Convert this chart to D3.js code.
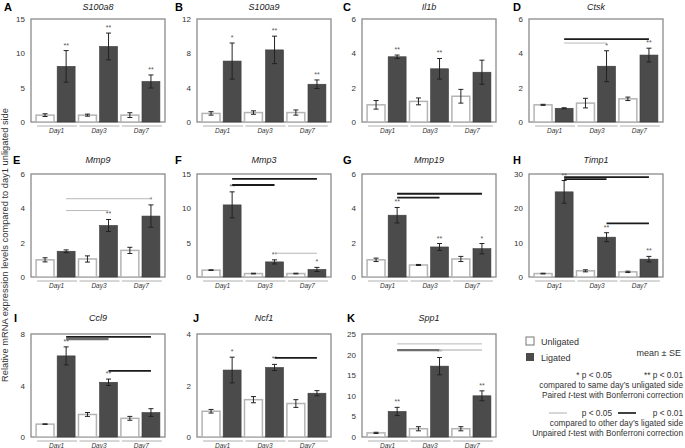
<!DOCTYPE html>
<html><head><meta charset="utf-8">
<script src="https://cdn.jsdelivr.net/npm/d3@7"></script>
<style>body{margin:0;background:#fff}svg{display:block;font-family:"Liberation Sans",Arial,sans-serif}</style>
</head><body><svg id="c" width="685" height="448"></svg>
<script>
const genes = ["S100a8","S100a9","Il1b","Ctsk","Mmp9","Mmp3","Mmp19","Timp1","Ccl9","Ncf1","Spp1"];
const letters = ["A","B","C","D","E","F","G","H","I","J","K"];
const days = ["Day1","Day3","Day7"];
const series = ["Unligated","Ligated"];
const unligatedMean = [[1.0,1.0,1.0],[1.0,1.1,1.1],[1.0,1.2,1.5],[1.0,1.1,1.35],[1.0,1.05,1.55],[1.0,0.5,0.5],[1.0,0.7,1.05],[1.0,1.8,1.5],[1.0,1.75,1.45],[1.0,1.45,1.3],[1.0,2.0,2.0]];
const unligatedSE   = [[0.2,0.15,0.35],[0.2,0.2,0.3],[0.25,0.2,0.4],[0.03,0.28,0.1],[0.12,0.18,0.18],[0.05,0.05,0.05],[0.1,0.03,0.15],[0.1,0.3,0.2],[0.02,0.15,0.15],[0.07,0.12,0.15],[0.15,0.5,0.5]];
const ligatedMean   = [[8.1,11.0,5.9],[7.1,8.4,4.4],[3.8,3.1,2.9],[0.8,3.25,3.9],[1.5,3.0,3.55],[10.5,2.2,1.1],[3.6,1.75,1.65],[24.8,11.6,5.2],[6.3,4.25,1.9],[2.6,2.7,1.7],[6.2,17.2,10.0]];
const ligatedSE     = [[2.3,1.95,0.95],[2.1,1.6,0.5],[0.1,0.6,0.7],[0.03,0.9,0.4],[0.08,0.35,0.65],[1.9,0.3,0.3],[0.45,0.2,0.3],[3.3,1.3,0.8],[0.7,0.25,0.3],[0.5,0.12,0.1],[1.0,2.1,1.2]];
const stars = [["**","**","**"],["*","**","**"],["**","**",""],["","*","**"],["","**","*"],["**","**","*"],["**","**","*"],["**","**","**"],["**","**",""],["*","**",""],["**","**","**"]];
const yMax = [15,12,6,6,6,15,6,30,8,4,25];
const yTicks = [[0,5,10,15],[0,4,8,12],[0,2,4,6],[0,2,4,6],[0,2,4,6],[0,5,10,15],[0,2,4,6],[0,10,20,30],[0,4,8],[0,2,4],[0,5,10,15,20,25]];
// significance lines between ligated groups: [fromDay, toDay, level, height in data units]
const sigLines = [[],[],[],
  [[0,2,"0.01",4.83],[0,1,"0.05",4.6]],
  [[0,2,"0.05",4.56],[0,1,"0.05",3.87]],
  [[0,2,"0.01",14.28],[0,1,"0.01",13.4],[1,2,"0.05",3.46]],
  [[0,2,"0.01",4.85],[0,1,"0.01",4.62]],
  [[0,2,"0.01",29.1],[0,1,"0.01",28.5],[1,2,"0.01",15.6]],
  [[0,2,"0.01",7.77],[0,1,"0.01m",7.6],[1,2,"0.01",5.13]],
  [[1,2,"0.01",3.07]],
  [[0,2,"0.05",22.6],[0,1,"0.01m",21.1],[1,2,"0.05t",21.1]]];

const colLeft = [31,197,362,529], panelW = 134, rowTop = [19,174,334], panelH = 103;
const letterX = [4,175,343,513,13,175,343,513,14,193,347];
const titleOffset = [9,11,13];

const svg = d3.select("#c");
const sigStyle = {"0.05":{c:"#b8b8b8",w:1},"0.05t":{c:"#c4c4c4",w:1.6},"0.01":{c:"#1a1a1a",w:1.8},"0.01m":{c:"#6e6e6e",w:2.2}};

genes.forEach((g,i)=>{
  const col = i%4, row = Math.floor(i/4);
  const L = colLeft[col], T = rowTop[row], R = L+panelW, B = T+panelH;
  const gp = svg.append("g");
  const y = d3.scaleLinear().domain([0,yMax[i]]).range([B,T]);
  const x0 = d3.scaleBand().domain(days).range([L,R]).paddingInner(0.08).paddingOuter(0.12);
  const x1 = d3.scaleBand().domain(series).range([0,x0.bandwidth()]).paddingInner(0.15);
  gp.append("text").attr("x",letterX[i]).attr("y",T-titleOffset[row]+1).attr("font-size",11).attr("font-weight","bold").text(letters[i]);
  gp.append("text").attr("x",(L+R)/2).attr("y",T-titleOffset[row]).attr("font-size",9).attr("font-style","italic").attr("text-anchor","middle").attr("fill","#222").text(g);
  const ax = gp.append("g").attr("transform",`translate(${L-6},0)`).call(d3.axisLeft(y).tickValues(yTicks[i]).tickFormat(d3.format("d")).tickSize(0).tickPadding(0));
  ax.select(".domain").remove();
  ax.selectAll("text").attr("font-size",8).attr("fill","#333").attr("font-family","Liberation Sans, Arial, sans-serif");
  gp.append("rect").attr("x",L).attr("y",T).attr("width",panelW).attr("height",panelH).attr("fill","none").attr("stroke","#8a8a8a").attr("stroke-width",1.3);
  const data = days.map((d,j)=>[
    {day:d,s:"Unligated",m:unligatedMean[i][j],e:unligatedSE[i][j],st:""},
    {day:d,s:"Ligated",m:ligatedMean[i][j],e:ligatedSE[i][j],st:stars[i][j]}]).flat();
  const bars = gp.selectAll(".b").data(data).join("g");
  bars.append("rect")
    .attr("x",d=>x0(d.day)+x1(d.s)).attr("width",x1.bandwidth())
    .attr("y",d=>y(d.m)).attr("height",d=>B-y(d.m))
    .attr("fill",d=>d.s==="Ligated"?"#4b4b4b":"#fff")
    .attr("stroke",d=>d.s==="Ligated"?"#3a3a3a":"#b4b4b4")
    .attr("stroke-width",d=>d.s==="Ligated"?0.6:1.5);
  const cx = d=>x0(d.day)+x1(d.s)+x1.bandwidth()/2;
  bars.append("line").attr("x1",cx).attr("x2",cx).attr("y1",d=>y(d.m-d.e)).attr("y2",d=>y(d.m+d.e)).attr("stroke","#222").attr("stroke-width",1);
  [-1,1].forEach(sg=>bars.append("line").attr("x1",d=>cx(d)-2.5).attr("x2",d=>cx(d)+2.5)
    .attr("y1",d=>y(d.m+sg*d.e)).attr("y2",d=>y(d.m+sg*d.e)).attr("stroke","#222").attr("stroke-width",1));
  bars.filter(d=>d.st).append("text").attr("x",cx).attr("y",d=>y(d.m+d.e)-3)
    .attr("text-anchor","middle").attr("font-size",7).attr("fill","#555").text(d=>d.st);
  days.forEach(d=>{
    gp.append("line").attr("x1",x0(d)+1).attr("x2",x0(d)+x0.bandwidth()+2).attr("y1",B+4).attr("y2",B+4).attr("stroke","#b0b0b0").attr("stroke-width",1);
    gp.append("text").attr("x",x0(d)+x0.bandwidth()/2+1).attr("y",B+11).attr("text-anchor","middle").attr("font-size",6.5).attr("font-style","italic").attr("fill","#333").text(d);
  });
  sigLines[i].forEach(([a,b,lv,h])=>{
    const xa = x0(days[a])+x1("Ligated")+x1.bandwidth()/2, xb = x0(days[b])+x1("Ligated")+x1.bandwidth()/2;
    gp.append("line").attr("x1",xa).attr("x2",xb).attr("y1",y(h)).attr("y2",y(h)).attr("stroke",sigStyle[lv].c).attr("stroke-width",sigStyle[lv].w);
  });
});

svg.append("text").attr("transform","translate(8,245) rotate(-90)").attr("text-anchor","middle").attr("font-size",9.3).attr("fill","#333")
  .text("Relative mRNA expression levels compared to day1 unligated side");

const lg = svg.append("g").attr("font-size",8.3).attr("fill","#333");
lg.append("rect").attr("x",526).attr("y",337).attr("width",8).attr("height",8).attr("fill","#fff").attr("stroke","#777").attr("stroke-width",1);
lg.append("text").attr("x",541).attr("y",344.5).attr("font-size",9).text(series[0]);
lg.append("rect").attr("x",526).attr("y",353).attr("width",8).attr("height",8).attr("fill","#4b4b4b");
lg.append("text").attr("x",541).attr("y",360.5).attr("font-size",9).text(series[1]);
lg.append("text").attr("x",681).attr("y",356).attr("text-anchor","end").attr("font-size",9).text("mean ± SE");
lg.append("text").attr("x",612).attr("y",378).attr("text-anchor","end").text("* p < 0.05");
lg.append("text").attr("x",683).attr("y",378).attr("text-anchor","end").text("** p < 0.01");
lg.append("text").attr("x",683).attr("y",388).attr("text-anchor","end").text("compared to same day’s unligated side");
const t1 = lg.append("text").attr("x",683).attr("y",398).attr("text-anchor","end");
t1.append("tspan").text("Paired ");t1.append("tspan").attr("font-style","italic").text("t");t1.append("tspan").text("-test  with Bonferroni correction");
lg.append("line").attr("x1",549).attr("x2",567).attr("y1",413).attr("y2",413).attr("stroke","#999").attr("stroke-width",0.8);
lg.append("text").attr("x",612).attr("y",416).attr("text-anchor","end").text("p < 0.05");
lg.append("line").attr("x1",618).attr("x2",636).attr("y1",413).attr("y2",413).attr("stroke","#111").attr("stroke-width",1.6);
lg.append("text").attr("x",683).attr("y",416).attr("text-anchor","end").text("p < 0.01");
lg.append("text").attr("x",683).attr("y",426).attr("text-anchor","end").text("compared to other day’s  ligated side");
const t2 = lg.append("text").attr("x",683).attr("y",436).attr("text-anchor","end");
t2.append("tspan").text("Unpaired ");t2.append("tspan").attr("font-style","italic").text("t");t2.append("tspan").text("-test with Bonferroni correction");
</script></body></html>
